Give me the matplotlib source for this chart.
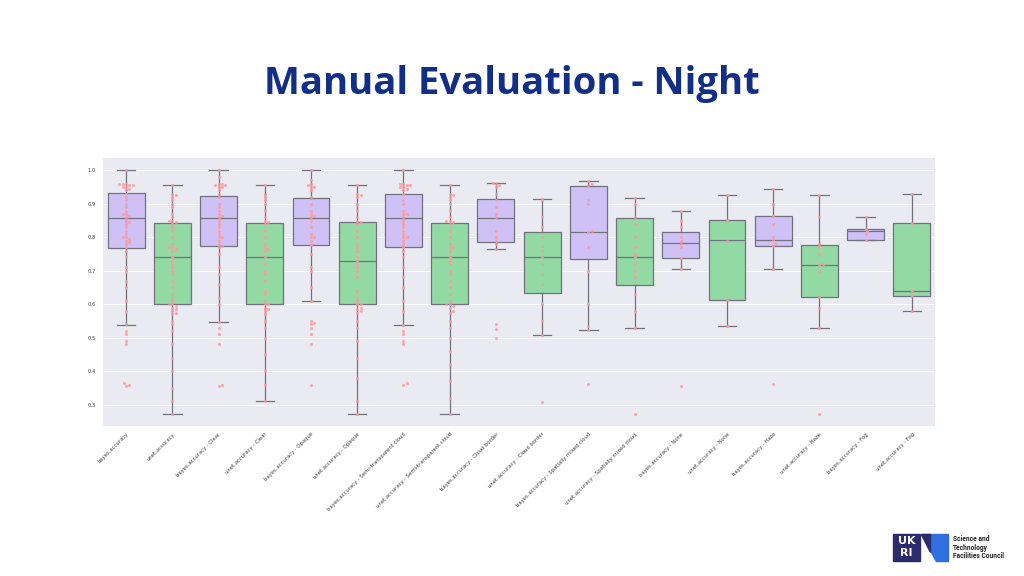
import numpy as np
import matplotlib
matplotlib.use("Agg")
import matplotlib.pyplot as plt
from matplotlib.patches import Polygon, Rectangle

# ---- data ----
labels = [
    "bayes.accuracy", "unet.accuracy",
    "bayes.accuracy - Clear", "unet.accuracy - Clear",
    "bayes.accuracy - Opaque", "unet.accuracy - Opaque",
    "bayes.accuracy - Semi-transparent cloud", "unet.accuracy - Semi-transparent cloud",
    "bayes.accuracy - Cloud border", "unet.accuracy - Cloud border",
    "bayes.accuracy - Spatially mixed cloud", "unet.accuracy - Spatially mixed cloud",
    "bayes.accuracy - None", "unet.accuracy - None",
    "bayes.accuracy - Haze", "unet.accuracy - Haze",
    "bayes.accuracy - Fog", "unet.accuracy - Fog",
]

whis_lo = [0.538, 0.273, 0.546, 0.310, 0.609, 0.273, 0.538, 0.273, 0.764,
           0.509, 0.522, 0.529, 0.704, 0.535, 0.704, 0.529, 0.792, 0.579]
q1 = [0.769, 0.600, 0.773, 0.600, 0.776, 0.600, 0.772, 0.600, 0.787,
      0.634, 0.736, 0.656, 0.737, 0.612, 0.773, 0.623, 0.792, 0.625]
med = [0.857, 0.740, 0.858, 0.740, 0.859, 0.730, 0.859, 0.741, 0.857,
       0.740, 0.817, 0.741, 0.783, 0.791, 0.791, 0.716, 0.818, 0.638]
q3 = [0.933, 0.843, 0.924, 0.843, 0.917, 0.845, 0.929, 0.843, 0.913,
      0.817, 0.953, 0.859, 0.815, 0.851, 0.863, 0.777, 0.825, 0.843]
whis_hi = [1.0, 0.955, 1.0, 0.955, 1.0, 0.955, 1.0, 0.955, 0.962,
           0.915, 0.967, 0.917, 0.878, 0.925, 0.945, 0.925, 0.860, 0.929]

pts_bayes_all = [1.0, 0.96, 0.96, 0.96, 0.955, 0.955, 0.95, 0.95, 0.945, 0.94, 0.93, 0.92,
                 0.91, 0.90, 0.89, 0.88, 0.87, 0.87, 0.865, 0.86, 0.85, 0.845, 0.84, 0.83,
                 0.82, 0.81, 0.80, 0.80, 0.795, 0.79, 0.785, 0.78, 0.77, 0.76, 0.74, 0.71,
                 0.70, 0.67, 0.65, 0.61, 0.58, 0.54, 0.52, 0.51, 0.49, 0.48, 0.365, 0.36, 0.357]
pts_unet_all = [0.955, 0.93, 0.925, 0.92, 0.91, 0.90, 0.89, 0.87, 0.86, 0.85, 0.85, 0.845,
                0.84, 0.83, 0.82, 0.80, 0.78, 0.77, 0.77, 0.765, 0.76, 0.74, 0.73, 0.72,
                0.71, 0.70, 0.69, 0.67, 0.65, 0.63, 0.62, 0.61, 0.60, 0.60, 0.595, 0.59,
                0.585, 0.58, 0.575, 0.57, 0.55, 0.54, 0.52, 0.48, 0.44, 0.40, 0.35, 0.31, 0.273]
pts_bayes_clear = [1.0, 0.98, 0.96, 0.96, 0.955, 0.955, 0.95, 0.95, 0.94, 0.93, 0.92, 0.90,
                   0.89, 0.88, 0.87, 0.865, 0.86, 0.85, 0.84, 0.83, 0.82, 0.81, 0.80, 0.80,
                   0.79, 0.78, 0.775, 0.77, 0.75, 0.71, 0.69, 0.66, 0.62, 0.60, 0.546, 0.53,
                   0.51, 0.48, 0.36, 0.355]
pts_unet_clear = [0.955, 0.93, 0.92, 0.91, 0.90, 0.88, 0.86, 0.85, 0.845, 0.84, 0.82, 0.80,
                  0.78, 0.77, 0.765, 0.76, 0.74, 0.72, 0.70, 0.69, 0.67, 0.64, 0.63, 0.61,
                  0.60, 0.60, 0.59, 0.585, 0.58, 0.57, 0.55, 0.53, 0.50, 0.45, 0.40, 0.36, 0.31]
pts_bayes_opaque = [1.0, 0.97, 0.96, 0.955, 0.95, 0.95, 0.94, 0.92, 0.90, 0.88, 0.87, 0.865,
                    0.86, 0.85, 0.83, 0.81, 0.80, 0.80, 0.79, 0.776, 0.75, 0.71, 0.70, 0.65,
                    0.609, 0.55, 0.545, 0.54, 0.53, 0.51, 0.48, 0.36]
pts_unet_opaque = [0.955, 0.93, 0.925, 0.92, 0.90, 0.88, 0.86, 0.85, 0.845, 0.84, 0.82, 0.80,
                   0.78, 0.77, 0.76, 0.74, 0.73, 0.72, 0.71, 0.70, 0.68, 0.64, 0.62, 0.61,
                   0.60, 0.60, 0.59, 0.585, 0.58, 0.575, 0.55, 0.53, 0.49, 0.44, 0.38, 0.31, 0.273]
pts_bayes_semi = [1.0, 0.96, 0.96, 0.955, 0.955, 0.95, 0.95, 0.945, 0.94, 0.93, 0.91, 0.90,
                  0.88, 0.87, 0.87, 0.86, 0.85, 0.84, 0.83, 0.82, 0.81, 0.80, 0.80, 0.79,
                  0.78, 0.77, 0.76, 0.74, 0.71, 0.68, 0.65, 0.61, 0.58, 0.538, 0.52, 0.51,
                  0.49, 0.48, 0.365, 0.36]
pts_unet_semi = [0.955, 0.93, 0.925, 0.92, 0.91, 0.90, 0.88, 0.86, 0.85, 0.85, 0.845, 0.84,
                 0.82, 0.80, 0.78, 0.77, 0.77, 0.76, 0.74, 0.73, 0.72, 0.70, 0.69, 0.67,
                 0.65, 0.63, 0.61, 0.60, 0.60, 0.595, 0.59, 0.58, 0.575, 0.55, 0.53, 0.50,
                 0.46, 0.42, 0.37, 0.32, 0.273]
pts_bayes_border = [0.962, 0.96, 0.955, 0.95, 0.93, 0.91, 0.89, 0.87, 0.86, 0.82, 0.80,
                    0.79, 0.78, 0.764, 0.541, 0.526, 0.499]
pts_unet_border = [0.915, 0.86, 0.83, 0.80, 0.775, 0.76, 0.74, 0.72, 0.69, 0.66, 0.60,
                   0.55, 0.509, 0.309]
pts_bayes_mixed = [0.967, 0.96, 0.955, 0.91, 0.90, 0.82, 0.815, 0.77, 0.70, 0.60, 0.535,
                   0.522, 0.361]
pts_unet_mixed = [0.917, 0.90, 0.86, 0.84, 0.80, 0.77, 0.75, 0.74, 0.72, 0.70, 0.68, 0.63,
                  0.58, 0.529, 0.271]
pts_bayes_none = [0.878, 0.85, 0.83, 0.80, 0.79, 0.78, 0.77, 0.737, 0.704, 0.356]
pts_unet_none = [0.925, 0.851, 0.79, 0.612, 0.535]
pts_bayes_haze = [0.945, 0.90, 0.863, 0.84, 0.80, 0.791, 0.78, 0.773, 0.704, 0.361]
pts_unet_haze = [0.925, 0.86, 0.78, 0.77, 0.75, 0.72, 0.716, 0.70, 0.623, 0.59, 0.529, 0.271]
pts_bayes_fog = [0.860, 0.825, 0.818, 0.81, 0.792]
pts_unet_fog = [0.929, 0.843, 0.638, 0.625, 0.579]

points = [pts_bayes_all, pts_unet_all, pts_bayes_clear, pts_unet_clear,
          pts_bayes_opaque, pts_unet_opaque, pts_bayes_semi, pts_unet_semi,
          pts_bayes_border, pts_unet_border, pts_bayes_mixed, pts_unet_mixed,
          pts_bayes_none, pts_unet_none, pts_bayes_haze, pts_unet_haze,
          pts_bayes_fog, pts_unet_fog]

title = "Manual Evaluation - Night"

# ---- style ----
bayes_col = "#cfc1f6"
unet_col = "#93d9a4"
line_col = "#72727f"
dot_col = "#ff979b"
ylim = (0.236, 1.037)

fig = plt.figure(figsize=(10.24, 5.76), dpi=100)
fig.patch.set_facecolor("white")

ax_l, ax_b, ax_w, ax_h = 103 / 1024, 1 - 426 / 576, 832 / 1024, 268 / 576
ax = fig.add_axes([ax_l, ax_b, ax_w, ax_h])
ax.set_facecolor("#eaeaf2")
for s in ax.spines.values():
    s.set_visible(False)
ax.set_axisbelow(True)
ax.grid(axis="y", color="white", lw=0.7)

stats = []
for i in range(len(labels)):
    stats.append(dict(whislo=whis_lo[i], q1=q1[i], med=med[i], q3=q3[i],
                      whishi=whis_hi[i], fliers=[]))

bp = ax.bxp(stats, positions=range(len(labels)), widths=0.8, patch_artist=True,
            showfliers=False,
            boxprops=dict(edgecolor=line_col, lw=0.9),
            medianprops=dict(color=line_col, lw=0.9),
            whiskerprops=dict(color=line_col, lw=0.9),
            capprops=dict(color=line_col, lw=0.9),
            capwidths=0.4)
for i, b in enumerate(bp["boxes"]):
    b.set_facecolor(bayes_col if i % 2 == 0 else unet_col)

ax.set_xlim(-0.5, len(labels) - 0.5)
ax.set_ylim(*ylim)

# swarm-style placement of the points (in pixel space)
px_x = ax_w * 1024 / len(labels)
px_y = ax_h * 576 / (ylim[1] - ylim[0])
dot_px = 2.8
for i, vals in enumerate(points):
    placed = []
    xs = []
    for v in sorted(vals):
        k = 0
        while True:
            off = ((k + 1) // 2) * (1 if k % 2 else -1) * dot_px * 0.6
            ok = all((off - ox) ** 2 + ((v - oy) * px_y) ** 2 >= dot_px ** 2
                     for ox, oy in placed)
            if ok:
                break
            k += 1
        placed.append((off, v))
        xs.append(i + off / px_x)
    ax.scatter(xs, sorted(vals), s=5, color=dot_col, alpha=0.8, lw=0, zorder=4)

ax.set_yticks([0.3, 0.4, 0.5, 0.6, 0.7, 0.8, 0.9, 1.0])
ax.set_yticklabels(["0.3", "0.4", "0.5", "0.6", "0.7", "0.8", "0.9", "1.0"])
ax.set_xticks(range(len(labels)))
ax.set_xticklabels(labels, rotation=45, ha="right", rotation_mode="anchor")
ax.tick_params(axis="both", length=0, labelsize=3.8, labelcolor="#444444")
ax.tick_params(axis="x", pad=4)
ax.tick_params(axis="y", pad=5)

# ---- slide title ----
fig.text(0.5, 1 - 94 / 576, title, ha="center", va="baseline",
         fontsize=27.5, fontweight="bold", color="#122f88", family="Open Sans")

# ---- logo, bottom right ----
def px(x, y):
    return (x / 1024, 1 - y / 576)

fig.patches.append(Rectangle(px(893, 561), 27 / 1024, 27 / 576,
                             transform=fig.transFigure, color="#2c2c6c"))
fig.patches.append(Polygon([px(921, 534), px(948, 534), px(948, 561), px(936, 561)],
                           closed=True, transform=fig.transFigure, color="#2f6fe0"))
fig.patches.append(Polygon([px(921, 534), px(930, 534), px(930, 552)],
                           closed=True, transform=fig.transFigure, color="#2c2c6c"))
fig.text(906.5 / 1024, 1 - 541 / 576, "UK", ha="center", va="center",
         fontsize=8, fontweight="bold", color="white", family="DejaVu Sans")
fig.text(906.5 / 1024, 1 - 553.5 / 576, "RI", ha="center", va="center",
         fontsize=8, fontweight="bold", color="white", family="DejaVu Sans")
fig.text(953 / 1024, 1 - 547.5 / 576, "Science and\nTechnology\nFacilities Council",
         ha="left", va="center", fontsize=4.8, fontweight="bold", color="#222222",
         family="Roboto", linespacing=1.05)

fig.savefig("out.png", dpi=100)
